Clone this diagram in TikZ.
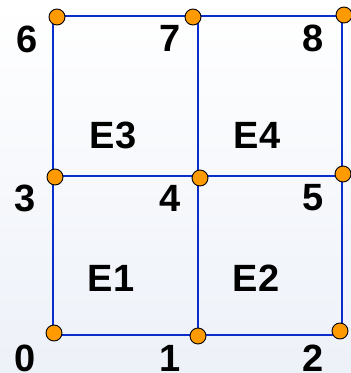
\documentclass[tikz,border=0pt]{standalone}
\usepackage{fontspec}
\setmainfont{Liberation Sans}
\usepackage{xcolor}
\usetikzlibrary{positioning}
\definecolor{meshblue}{HTML}{0A2ECC}
\definecolor{dotorange}{HTML}{FF9A00}
\definecolor{bgtop}{HTML}{FFFFFF}
\definecolor{bgbot}{HTML}{EDF1F8}
\tikzset{
  meshdot/.style={circle,draw=black,fill=dotorange,line width=0.9pt,
                  minimum size=16pt,inner sep=0pt},
  meshline/.style={draw=meshblue,line width=2.3pt},
  numlabel/.style={font=\fontsize{38}{42}\selectfont\bfseries,inner sep=0pt},
  elemlabel/.style={font=\fontsize{38}{42}\selectfont\bfseries,inner sep=0pt}
}
\begin{document}
\begin{tikzpicture}[x=1pt,y=-1pt]
    \shade[top color=bgtop,bottom color=bgbot] (0,0) rectangle (351,373);
    \useasboundingbox (0,0) rectangle (351,373);
    % grid corners
    \coordinate (g0) at (53,335);
    \coordinate (g1) at (198,335);
    \coordinate (g2) at (342,335);
    \coordinate (g3) at (53,176);
    \coordinate (g4) at (198,176);
    \coordinate (g5) at (342,176);
    \coordinate (g6) at (53,16);
    \coordinate (g7) at (198,16);
    \coordinate (g8) at (342,16);
    \draw[meshline] (g0) -- (g1) -- (g2);
    \draw[meshline] (g3) -- (g4) -- (g5);
    \draw[meshline] (g6) -- (g7) -- (g8);
    \draw[meshline] (g0) -- (g3) -- (g6);
    \draw[meshline] (g1) -- (g4) -- (g7);
    \draw[meshline] (g2) -- (g5) -- (g8);
    % mesh points
    \node[meshdot] (d0) at (54,333) {};
    \node[meshdot] (d1) at (198,336) {};
    \node[meshdot] (d2) at (340,331) {};
    \node[meshdot] (d3) at (55,177) {};
    \node[meshdot] (d4) at (200,178) {};
    \node[meshdot] (d5) at (343,174) {};
    \node[meshdot] (d6) at (57,17) {};
    \node[meshdot] (d7) at (193,17) {};
    \node[meshdot] (d8) at (344,15) {};
    % node numbers
    \node[numlabel] (n0) at (25,358) {0};
    \node[numlabel] (n1) at (170,358) {1};
    \node[numlabel] (n2) at (313,358) {2};
    \node[numlabel] (n3) at (25,198) {3};
    \node[numlabel] (n4) at (170,198) {4};
    \node[numlabel] (n5) at (313,198) {5};
    \node[numlabel] (n6) at (27,39) {6};
    \node[numlabel] (n7) at (170,38) {7};
    \node[numlabel] (n8) at (313,38) {8};
    % elements
    \node[elemlabel] (e1) at (111,278) {E1};
    \node[elemlabel] (e2) at (256,278) {E2};
    \node[elemlabel] (e3) at (113,135) {E3};
    \node[elemlabel] (e4) at (257,135) {E4};
  \end{tikzpicture}
\end{document}
